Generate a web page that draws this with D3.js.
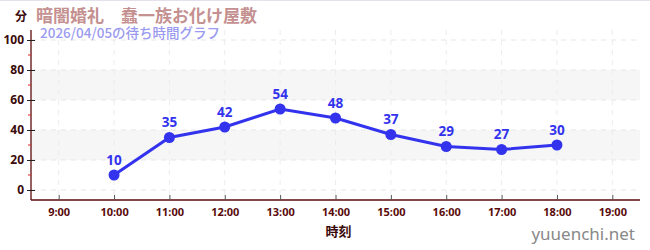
<!DOCTYPE html>
<html><head><meta charset="utf-8">
<script src="https://cdn.jsdelivr.net/npm/d3@7"></script>
<style>
html,body{margin:0;padding:0;background:#fff;}
svg{display:block;font-family:"Noto Sans CJK JP","Noto Sans",sans-serif;}
</style></head>
<body><svg id="c" width="650" height="250"></svg>
<script>
const hours = [10, 11, 12, 13, 14, 15, 16, 17, 18];
const waits = [10, 35, 42, 54, 48, 37, 29, 27, 30];
const xTicks = [9, 10, 11, 12, 13, 14, 15, 16, 17, 18, 19];
const xTickLabels = ["9:00","10:00","11:00","12:00","13:00","14:00","15:00","16:00","17:00","18:00","19:00"];
const yTicks = [0, 20, 40, 60, 80, 100];
const yMinorTicks = [10, 30, 50, 70, 90];
const bands = [[20, 40], [60, 80]];
const title = "暗闇婚礼　蠢一族お化け屋敷";
const subtitle = "2026/04/05の待ち時間グラフ";

const svg = d3.select("#c");
const L = 31, R = 640, T = 30, B = 200;
const x = d3.scaleLinear().domain([8.5, 19.5]).range([L, R]);
const y = d3.scaleLinear().domain([-6.67, 106.67]).range([B, T]);
const axisColor = "#5a0a0a";

svg.append("line").attr("x1",0).attr("x2",650).attr("y1",0.5).attr("y2",0.5).attr("stroke","#e4e0ee");

// bands
svg.selectAll("rect.band").data(bands).join("rect")
  .attr("x", L).attr("width", R - L)
  .attr("y", d => y(d[1])).attr("height", d => y(d[0]) - y(d[1]))
  .attr("fill", "#f6f6f6");

// grid
svg.selectAll("line.gy").data(yTicks).join("line")
  .attr("x1", L).attr("x2", R).attr("y1", d => y(d)).attr("y2", d => y(d))
  .attr("stroke", "#e6e6e6").attr("stroke-dasharray", "5,5");
svg.selectAll("line.gx").data(xTicks).join("line")
  .attr("x1", d => x(d)).attr("x2", d => x(d)).attr("y1", T).attr("y2", B)
  .attr("stroke", "#ececec").attr("stroke-dasharray", "5,5");

// y axis
const yAxis = svg.append("g").attr("transform", `translate(${L},0)`)
  .call(d3.axisLeft(y).tickValues(yTicks).tickSize(4).tickPadding(3));
yAxis.select(".domain").attr("d", `M0,${T}V${B}`).attr("stroke", axisColor).attr("stroke-width", 1.3);
yAxis.selectAll(".tick line").attr("x1", -4).attr("x2", 4).attr("stroke", "#222");
yAxis.selectAll(".tick text").attr("font-size", 12).attr("font-weight", "bold").attr("fill", "#3a0a0a")
  .attr("font-family", "'Noto Sans','DejaVu Sans',sans-serif");
svg.selectAll("line.minor").data(yMinorTicks).join("line")
  .attr("x1", L - 3).attr("x2", L).attr("y1", d => y(d)).attr("y2", d => y(d))
  .attr("stroke", "#dd2222");

// x axis
const xAxis = svg.append("g").attr("transform", `translate(0,${B})`)
  .call(d3.axisBottom(x).tickValues(xTicks).tickFormat((d, i) => xTickLabels[i]).tickSize(0).tickPadding(8));
xAxis.select(".domain").attr("d", `M${L},0H${R}`).attr("stroke", axisColor).attr("stroke-width", 1.3);
xAxis.selectAll(".tick line").attr("y1", -5).attr("y2", 0).attr("stroke", "#555");
xAxis.selectAll(".tick text").attr("font-size", 11).attr("font-weight", "bold").attr("fill", "#5a0a0a")
  .attr("font-family", "'Noto Sans','DejaVu Sans',sans-serif");

svg.append("text").attr("x", (L + R) / 2 + 3).attr("y", 236).attr("text-anchor", "middle")
  .attr("font-size", 13).attr("font-weight", "bold").attr("fill", "#3a0a0a").text("時刻");

// line
svg.append("path").datum(hours.map((h, i) => [h, waits[i]]))
  .attr("d", d3.line().x(d => x(d[0])).y(d => y(d[1])))
  .attr("fill", "none").attr("stroke", "#3333ee").attr("stroke-width", 3);
svg.selectAll("circle.pt").data(hours).join("circle")
  .attr("cx", d => x(d)).attr("cy", (d, i) => y(waits[i])).attr("r", 5.5).attr("fill", "#3333ee");
svg.selectAll("text.lbl").data(hours).join("text")
  .attr("x", d => x(d)).attr("y", (d, i) => y(waits[i]) - 10).attr("text-anchor", "middle")
  .attr("font-size", 13.5).attr("font-weight", "bold").attr("fill", "#3333ee")
  .attr("font-family", "'Noto Sans','DejaVu Sans',sans-serif")
  .text((d, i) => waits[i]);

// titles
svg.append("text").attr("x", 15).attr("y", 21).attr("font-size", 12).attr("font-weight", "bold")
  .attr("fill", "#3a0a0a").text("分");
svg.append("text").attr("x", 36).attr("y", 22).attr("font-size", 17).attr("font-weight", "bold")
  .attr("fill", "#c49090").text(title);
svg.append("text").attr("x", 40).attr("y", 38).attr("font-size", 13.5).attr("font-weight", 500)
  .attr("fill", "#9a9af0").text(subtitle);
svg.append("text").attr("x", 635).attr("y", 240).attr("text-anchor", "end").attr("font-size", 17)
  .attr("fill", "#888").attr("font-family", "'Noto Sans','DejaVu Sans',sans-serif").text("yuuenchi.net");
</script></body></html>
